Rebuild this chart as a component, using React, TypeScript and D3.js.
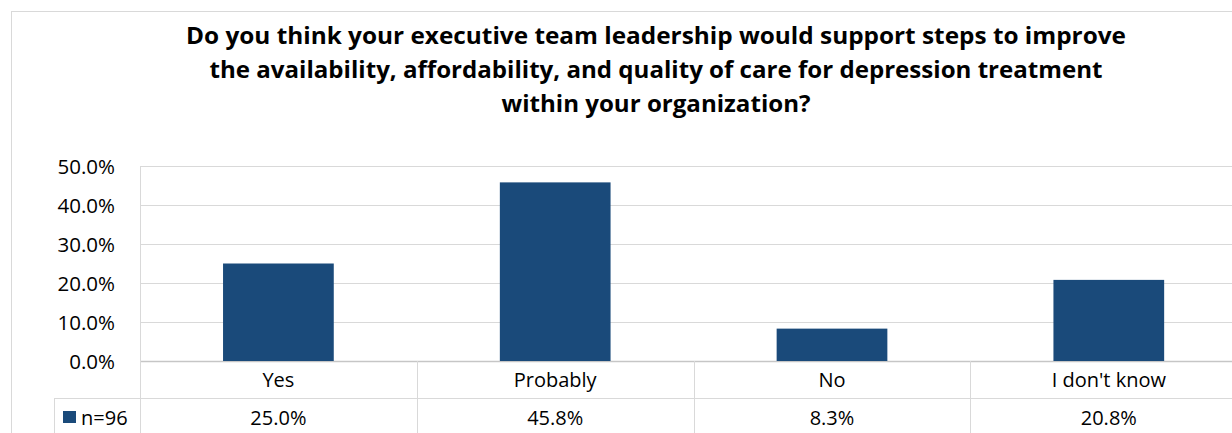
import React from "react";
import * as d3 from "d3";

const categories = ["Yes", "Probably", "No", "I don't know"];
const values = [0.25, 0.458, 0.083, 0.208];
const valueLabels = ["25.0%", "45.8%", "8.3%", "20.8%"];
const yTicks = [0, 0.1, 0.2, 0.3, 0.4, 0.5];
const seriesName = "n=96";
const titleLines = [
  "Do you think your executive team leadership would support steps to improve",
  "the availability, affordability, and quality of care for depression treatment",
  "within your organization?",
];
const titleWidths = [940, 893, 309];

const W = 1232;
const H = 433;
const FONT = "'Open Sans', 'Noto Sans', sans-serif";
const BAR = "#1A4A7A";
const GRID = "#d9d9d9";

export default function App() {
  const plotLeft = 140;
  const plotRight = 140 + 4 * 276.8;
  const x = d3.scaleBand<string>().domain(categories).range([plotLeft, plotRight]).padding(0);
  const y = d3.scaleLinear().domain([0, 0.5]).range([361, 166]);
  const bw = x.bandwidth();
  const barW = bw * 0.4;
  const rowLine = 398;

  return (
    <svg
      width={W}
      height={H}
      style={{ position: "absolute", left: 0, top: 0, background: "#fff" }}
      fontFamily={FONT}
    >
      <rect x={0} y={0} width={W} height={H} fill="#fff" />
      <rect x={11.5} y={11.5} width={W + 20} height={H + 20} fill="none" stroke={GRID} strokeWidth={1} />

      {titleLines.map((t, i) => (
        <text
          key={i}
          x={656}
          y={44 + i * 34}
          textAnchor="middle"
          fontWeight="bold"
          fontSize={23.5}
          fill="#000"
          textLength={titleWidths[i]}
          lengthAdjust="spacingAndGlyphs"
        >
          {t}
        </text>
      ))}

      {yTicks.map((t) => (
        <line key={"g" + t} x1={plotLeft} x2={plotRight} y1={Math.round(y(t)) + 0.5} y2={Math.round(y(t)) + 0.5} stroke={t === 0 ? "#c6c6c6" : GRID} strokeWidth={t === 0 ? 1.5 : 1} />
      ))}

      {yTicks.map((t) => (
        <text key={"t" + t} x={115} y={y(t) + 7.5} textAnchor="end" fontSize={20.5} fill="#000">
          {d3.format(".1%")(t)}
        </text>
      ))}

      {categories.map((c, i) => (
        <rect
          key={"b" + c}
          x={(x(c) as number) + (bw - barW) / 2}
          y={y(values[i])}
          width={barW}
          height={y(0) - y(values[i])}
          fill={BAR}
        />
      ))}

      {/* data table grid */}
      <line x1={plotLeft + 0.5} x2={plotLeft + 0.5} y1={166} y2={H} stroke={GRID} strokeWidth={1} />
      {categories.slice(1).map((c) => (
        <line key={"v" + c} x1={Math.round(x(c) as number) + 0.5} x2={Math.round(x(c) as number) + 0.5} y1={361} y2={H} stroke={GRID} strokeWidth={1} />
      ))}
      <line x1={54} x2={plotRight} y1={rowLine + 0.5} y2={rowLine + 0.5} stroke={GRID} strokeWidth={1} />
      <line x1={54.5} x2={54.5} y1={rowLine} y2={H} stroke={GRID} strokeWidth={1} />

      {categories.map((c) => (
        <text key={"c" + c} x={(x(c) as number) + bw / 2} y={387} textAnchor="middle" fontSize={20} fill="#000">
          {c}
        </text>
      ))}
      {categories.map((c, i) => (
        <text key={"d" + c} x={(x(c) as number) + bw / 2} y={425} textAnchor="middle" fontSize={20} fill="#000">
          {valueLabels[i]}
        </text>
      ))}

      <rect x={63} y={411} width={13} height={12} fill={BAR} />
      <text x={81} y={425} fontSize={20} fill="#000">
        {seriesName}
      </text>
    </svg>
  );
}
